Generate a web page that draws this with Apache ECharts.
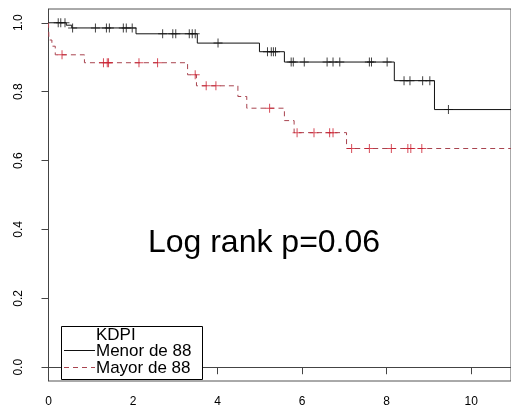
<!DOCTYPE html>
<html>
<head>
<meta charset="utf-8">
<script src="https://cdn.jsdelivr.net/npm/echarts@6/dist/echarts.min.js"></script>
<style>
html,body{margin:0;padding:0;background:#fff;}
#c{width:511px;height:408px;}
</style>
</head>
<body>
<div id="c"></div>
<script>
// ---- data ----
var xTicks = [0, 2, 4, 6, 8, 10];
var yTicks = [0, 0.2, 0.4, 0.6, 0.8, 1.0];
var seriesNames = ['Menor de 88', 'Mayor de 88'];
var legendTitle = 'KDPI';
var annotation = 'Log rank p=0.06';

var menorTimes = [0, 0.42, 0.55, 2.07, 3.52, 4.99, 5.58, 8.18, 9.13];
var menorSurv  = [1.0, 0.993, 0.985, 0.968, 0.941, 0.916, 0.886, 0.832, 0.748];
var menorCensor = [0.23, 0.29, 0.39, 0.57, 1.11, 1.37, 1.44, 1.77, 1.84, 1.98, 2.70, 2.94, 3.01,
                   3.33, 3.40, 3.47, 4.01, 5.18, 5.27, 5.32, 5.37, 5.74, 5.79, 6.05, 6.59, 6.73,
                   6.89, 7.59, 7.64, 8.01, 8.41, 8.55, 8.85, 9.02, 9.46];

var mayorTimes = [0, 0.01, 0.08, 0.16, 0.85, 3.29, 3.50, 4.48, 4.69, 5.58, 5.81, 7.05];
var mayorSurv  = [1.0, 0.95, 0.932, 0.907, 0.884, 0.849, 0.817, 0.786, 0.752, 0.716, 0.681, 0.635];
var mayorCensor = [0.32, 1.30, 1.39, 1.42, 2.14, 2.58, 3.47, 3.73, 3.96, 5.23, 5.88, 6.28, 6.65,
                   6.73, 7.17, 7.59, 8.11, 8.50, 8.57, 8.83];

var followUpEnd = 10.94;

// ---- helpers ----
function stepData(times, surv, endT) {
  var d = times.map(function (t, i) { return [t, surv[i]]; });
  d.push([endT, surv[surv.length - 1]]);
  return d;
}
function survAt(times, surv, t) {
  var s = surv[0];
  for (var i = 0; i < times.length; i++) { if (times[i] <= t) s = surv[i]; }
  return s;
}
function censorData(ct, times, surv) {
  return ct.map(function (t) { return [t, survAt(times, surv, t)]; });
}

var FONT = '"Liberation Sans", Arial, Helvetica, sans-serif';
var BLACK = '#111111';
var RED_LINE = '#a8444f';
var RED_MARK = '#cc1f2f';
var PLUS = 'path://M0,4h9v1h-9z M4,0h1v9h-1z';

var chart = echarts.init(document.getElementById('c'), null, {renderer: 'canvas'});
chart.setOption({
  animation: false,
  backgroundColor: '#ffffff',
  grid: {left: 48.5, top: 9, bottom: 26, right: -5, show: true, borderColor: '#555', borderWidth: 1, backgroundColor: 'transparent'},
  xAxis: {
    type: 'value', min: 0, max: followUpEnd,
    axisLine: {show: true, lineStyle: {color: '#444', width: 1}},
    axisTick: {show: true, length: 7, customValues: xTicks, lineStyle: {color: '#444'}},
    axisLabel: {customValues: xTicks, color: '#000', fontSize: 12, fontFamily: FONT, margin: 15},
    splitLine: {show: false}
  },
  yAxis: {
    type: 'value', min: -0.04, max: 1.04,
    axisLine: {show: true, lineStyle: {color: '#444', width: 1}},
    axisTick: {show: true, length: 7, customValues: yTicks, lineStyle: {color: '#444'}},
    axisLabel: {customValues: yTicks, rotate: 90, color: '#000', fontSize: 12, fontFamily: FONT, margin: 24,
      formatter: function (v) { return v.toFixed(1); }},
    splitLine: {show: false}
  },
  series: [
    {name: seriesNames[0], type: 'line', step: 'end', data: stepData(menorTimes, menorSurv, followUpEnd),
     symbol: 'none', lineStyle: {color: BLACK, width: 1}, z: 3},
    {name: seriesNames[1], type: 'line', step: 'end', data: stepData(mayorTimes, mayorSurv, followUpEnd),
     symbol: 'none', lineStyle: {color: RED_LINE, width: 1, type: [5, 4]}, z: 2},
    {type: 'scatter', data: censorData(menorCensor, menorTimes, menorSurv), symbol: PLUS, symbolSize: [9, 9],
     itemStyle: {color: BLACK}, z: 4},
    {type: 'scatter', data: censorData(mayorCensor, mayorTimes, mayorSurv), symbol: PLUS, symbolSize: [9, 9],
     itemStyle: {color: RED_MARK}, z: 4}
  ],
  graphic: [
    {type: 'text', x: 264, y: 243, style: {text: annotation, font: '32px ' + FONT, fill: '#000', align: 'center', verticalAlign: 'middle'}},
    {type: 'rect', shape: {x: 61.5, y: 326.5, width: 141, height: 53}, style: {fill: '#fff', stroke: '#000', lineWidth: 1}, z: 10},
    {type: 'text', x: 96, y: 335, style: {text: legendTitle, font: '17px ' + FONT, fill: '#000', verticalAlign: 'middle'}, z: 11},
    {type: 'line', shape: {x1: 64, y1: 350.5, x2: 95, y2: 350.5}, style: {stroke: BLACK, lineWidth: 1}, z: 11},
    {type: 'text', x: 96, y: 351, style: {text: seriesNames[0], font: '17px ' + FONT, fill: '#000', verticalAlign: 'middle'}, z: 11},
    {type: 'line', shape: {x1: 64, y1: 367.5, x2: 95, y2: 367.5}, style: {stroke: RED_LINE, lineWidth: 1, lineDash: [5, 4]}, z: 11},
    {type: 'text', x: 96, y: 368, style: {text: seriesNames[1], font: '17px ' + FONT, fill: '#000', verticalAlign: 'middle'}, z: 11}
  ]
});
</script>
</body>
</html>
